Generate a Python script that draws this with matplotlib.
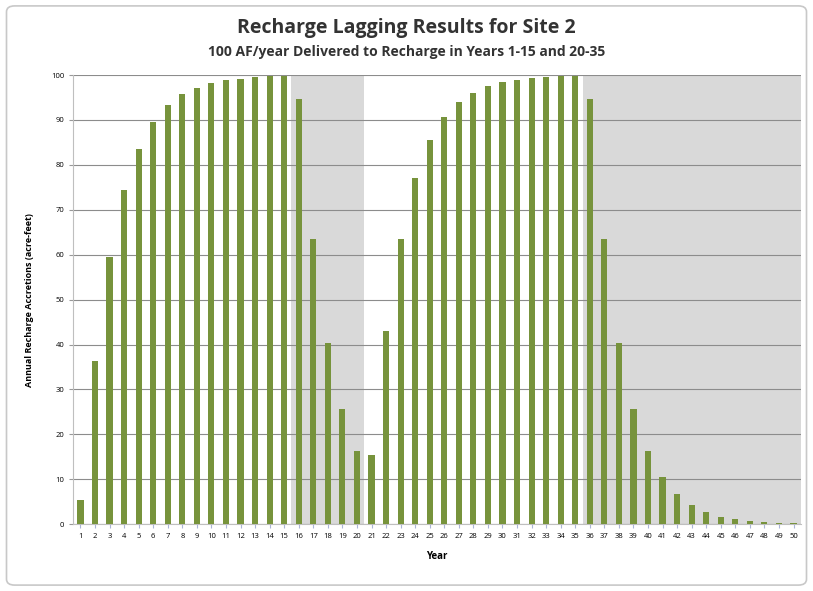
import numpy as np
import matplotlib.pyplot as plt
from matplotlib.patches import FancyBboxPatch

years = list(range(1, 51))
accretions = [5.3, 36.4, 59.5, 74.3, 83.6, 89.5, 93.3, 95.7, 97.2, 98.2,
              98.8, 99.2, 99.5, 99.7, 99.8, 94.7, 63.6, 40.3, 25.7, 16.4,
              15.5, 43.0, 63.6, 77.0, 85.5, 90.6, 94.0, 96.1, 97.5, 98.4,
              98.9, 99.3, 99.5, 99.7, 99.8, 94.7, 63.6, 40.3, 25.7, 16.4,
              10.5, 6.7, 4.3, 2.7, 1.7, 1.1, 0.7, 0.45, 0.29, 0.18]
# periods with no recharge delivery (shaded)
off_periods = [(15.5, 20.5), (35.5, 50.5)]

plt.rcParams['font.family'] = ['Open Sans', 'DejaVu Sans']

fig = plt.figure(figsize=(8.13, 5.91), dpi=100)
ax = fig.add_axes([0.09, 0.113, 0.895, 0.76])

for start, end in off_periods:
    ax.axvspan(start, end, color="#d9d9d9", zorder=0, lw=0)

ax.bar(years, accretions, width=0.42, color="#77933c", zorder=3)

ax.set_xlim(0.5, 50.5)
ax.set_ylim(0, 100)
ax.set_yticks(range(0, 101, 10))
ax.set_xticks(years)
ax.set_xticklabels([str(y) for y in years], fontsize=5.5)
ax.tick_params(axis="y", labelsize=5.5, length=3, color="#999999")
ax.tick_params(axis="x", length=3, color="#aab4d8")
ax.yaxis.grid(True, color="#8c8c8c", lw=0.8, zorder=1)
ax.set_axisbelow(True)
for s in ["top", "right"]:
    ax.spines[s].set_visible(False)
ax.spines["left"].set_color("#bfbfbf")
ax.spines["bottom"].set_color("#bfbfbf")

ax.set_xlabel("Year", fontsize=7, fontweight="bold", labelpad=8)
ax.set_ylabel("Annual Recharge Accretions (acre-feet)", fontsize=6.5,
              fontweight="bold", labelpad=12)

fig.text(0.5, 0.953, "Recharge Lagging Results for Site 2", ha="center",
         va="center", fontsize=14, fontweight="bold", color="#333333")
fig.text(0.5, 0.912, "100 AF/year Delivered to Recharge in Years 1-15 and 20-35",
         ha="center", va="center", fontsize=10, fontweight="bold", color="#333333")

fig.patches.append(FancyBboxPatch((0.008, 0.01), 0.984, 0.98,
                                  boxstyle="round,pad=0,rounding_size=0.01",
                                  transform=fig.transFigure, fill=False,
                                  ec="#c8c8c8", lw=1.2))

fig.savefig("out.png", dpi=100)
